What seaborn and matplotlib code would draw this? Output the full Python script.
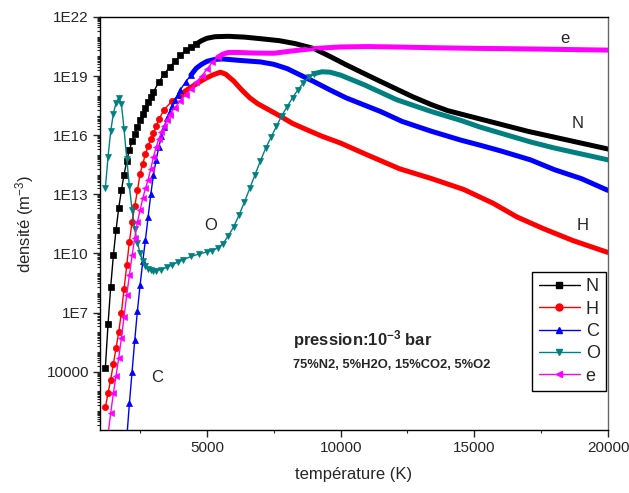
import numpy as np
import pandas as pd
import matplotlib
matplotlib.use("Agg")
import matplotlib.pyplot as plt
import seaborn as sns
from matplotlib.ticker import FixedLocator, FuncFormatter, LogLocator, NullFormatter
from matplotlib.lines import Line2D

# ---------------- data (log10 of density in m^-3) ----------------
T_N = [1200, 1300, 1400, 1500, 1600, 1700, 1800, 1900, 2000, 2100, 2200, 2300, 2400, 2500,
       2600, 2700, 2800, 2900, 3000, 3200, 3400, 3600, 3800, 4000, 4200, 4400, 4600, 4800,
       5000, 5300, 5800, 6400, 7000, 7700, 8300, 9000, 9600, 10200, 11000, 12000, 12700,
       13400, 14000, 15000, 16000, 17000, 18000, 19000, 20000]
logN = [4.2, 6.4, 8.3, 9.9, 11.2, 12.3, 13.2, 14.0, 14.7, 15.25, 15.7, 16.05, 16.4, 16.75,
        17.1, 17.4, 17.7, 17.95, 18.2, 18.7, 19.1, 19.45, 19.75, 20.05, 20.3, 20.47, 20.63, 20.8,
        20.92, 21.0, 21.02, 20.98, 20.9, 20.8, 20.65, 20.4, 20.0, 19.58, 19.05, 18.4, 17.95,
        17.55, 17.25, 16.9, 16.55, 16.2, 15.9, 15.6, 15.3]

T_H = [1200, 1300, 1400, 1500, 1600, 1700, 1800, 1900, 2000, 2100, 2200, 2300, 2400, 2500,
       2600, 2700, 2800, 2900, 3000, 3100, 3200, 3400, 3700, 4000, 4300, 4600, 4900, 5200,
       5500, 5700, 6000, 6300, 6600, 6900, 7300, 7700, 8200, 8700, 9300, 10000, 11000, 12200,
       13400, 14600, 15700, 16600, 17600, 18700, 20000]
logH = [2.2, 2.9, 3.6, 4.4, 5.2, 6.0, 7.0, 8.2, 9.4, 10.6, 11.6, 12.4, 13.2, 14.05,
        14.55, 15.05, 15.45, 15.8, 16.1, 16.45, 16.8, 17.3, 17.75, 18.05, 18.35, 18.6, 18.85, 19.05,
        19.2, 19.1, 18.75, 18.3, 17.9, 17.6, 17.3, 17.0, 16.6, 16.3, 15.95, 15.6, 15.0, 14.3,
        13.8, 13.25, 12.55, 11.85, 11.25, 10.65, 10.05]

T_C = [2000, 2100, 2200, 2300, 2400, 2500, 2600, 2700, 2800, 2900, 3000, 3100, 3200, 3300,
       3400, 3500, 3600, 3700, 3800, 3900, 4000, 4200, 4400, 4600, 4800, 5000, 5300, 5600,
       6200, 7000, 7500, 8000, 8500, 9000, 9600, 10200, 11500, 12300, 13400, 14500, 15200,
       16000, 17100, 18000, 19000, 20000]
logC = [0.6, 2.4, 4.0, 5.6, 7.1, 8.4, 9.6, 10.7, 11.85, 13.0, 14.0, 14.75, 15.4, 15.95,
        16.4, 16.85, 17.2, 17.5, 17.8, 18.05, 18.3, 18.7, 19.05, 19.4, 19.6, 19.75, 19.85, 19.87,
        19.8, 19.72, 19.6, 19.38, 19.05, 18.72, 18.3, 17.9, 17.2, 16.7, 16.2, 15.75, 15.5,
        15.2, 14.75, 14.25, 13.8, 13.2]

T_O = [1200, 1300, 1400, 1500, 1600, 1700, 1800, 1900, 2000, 2100, 2200, 2300, 2400, 2500,
       2600, 2700, 2800, 2900, 3000, 3100, 3300, 3500, 3700, 3900, 4100, 4400, 4700, 5000,
       5200, 5400, 5600, 5800, 6000, 6200, 6400, 6600, 6800, 7000, 7200, 7400, 7600, 7800,
       8000, 8200, 8400, 8600, 8800, 9000, 9300, 9600, 10000, 10900, 12100, 13400, 14500,
       15200, 16000, 17100, 18000, 19000, 20000]
logO = [13.3, 14.9, 16.2, 17.1, 17.65, 17.9, 17.6, 16.3, 14.8, 13.4, 12.2, 11.25, 10.55, 10.0,
        9.6, 9.35, 9.22, 9.16, 9.13, 9.13, 9.18, 9.3, 9.42, 9.55, 9.67, 9.85, 9.97, 10.08,
        10.15, 10.28, 10.5, 10.9, 11.35, 11.95, 12.6, 13.3, 14.0, 14.7, 15.35, 15.9, 16.45, 17.0,
        17.45, 17.9, 18.3, 18.65, 18.95, 19.12, 19.22, 19.2, 19.05, 18.55, 17.8, 17.2, 16.75,
        16.42, 16.1, 15.66, 15.35, 15.05, 14.75]

T_e = [1300, 1400, 1500, 1600, 1700, 1800, 1900, 2000, 2100, 2200, 2300, 2400, 2500, 2600,
       2700, 2800, 2900, 3000, 3100, 3200, 3300, 3400, 3500, 3600, 3800, 4000, 4200, 4400,
       4600, 4800, 5000, 5200, 5400, 5600, 5800, 6200, 6800, 7500, 8200, 9000, 10000, 11000,
       12000, 13500, 15000, 17000, 20000]
loge = [0.8, 1.9, 2.9, 3.8, 4.7, 5.7, 6.8, 7.9, 8.9, 9.9, 10.8, 11.6, 12.2, 12.8,
        13.3, 13.75, 14.3, 14.9, 15.4, 15.8, 16.15, 16.45, 16.75, 17.05, 17.4, 17.75, 18.05, 18.35,
        18.7, 19.0, 19.35, 19.7, 19.95, 20.12, 20.2, 20.2, 20.17, 20.16, 20.28, 20.4, 20.48, 20.5,
        20.48, 20.44, 20.41, 20.38, 20.32]

species = ["N", "H", "C", "O", "e"]
colors = ["#000000", "#FF0000", "#0000FF", "#008080", "#FF00FF"]
markers = ["s", "o", "^", "v", "<"]

x_ticks = [5000, 10000, 15000, 20000]
y_ticks = [1e4, 1e7, 1e10, 1e13, 1e16, 1e19, 1e22]

# ---------------- style ----------------
sns.set_style("ticks")
plt.rcParams["font.family"] = ["Liberation Sans", "DejaVu Sans"]
plt.rcParams["mathtext.fontset"] = "custom"
plt.rcParams["mathtext.rm"] = "Liberation Sans"
plt.rcParams["mathtext.it"] = "Liberation Sans:italic"
plt.rcParams["mathtext.bf"] = "Liberation Sans:bold"

fig = plt.figure(figsize=(6.29, 4.93), dpi=100)
ax = fig.add_axes([100 / 629, 63 / 493, 508 / 629, 413 / 493])

series = [(T_N, logN, 4600), (T_H, logH, 4000), (T_C, logC, 4400), (T_O, logO, 9000), (T_e, loge, 5400)]
for (T, lg, band_from), name, col, mk in zip(series, species, colors, markers):
    df = pd.DataFrame({"T": T, "n": 10.0 ** np.asarray(lg, dtype=float)})
    band = df[df["T"] >= band_from]
    sns.lineplot(data=band, x="T", y="n", ax=ax, color=col, lw=3.6, estimator=None,
                 errorbar=None, legend=False, zorder=2)
    show = [bool(t <= band_from) for t in df["T"]]
    sns.lineplot(data=df, x="T", y="n", ax=ax, color=col, lw=1.0, marker=mk, markersize=4.5,
                 markeredgewidth=0.5, markeredgecolor=col, markevery=show, estimator=None,
                 errorbar=None, legend=False, zorder=3)

ax.set_yscale("log")
ax.set_xlim(1000, 20000)
ax.set_ylim(11, 1e22)

ax.xaxis.set_major_locator(FixedLocator(x_ticks))
ax.xaxis.set_minor_locator(FixedLocator([2500, 7500, 12500, 17500]))
ax.yaxis.set_major_locator(FixedLocator(y_ticks))
ax.yaxis.set_minor_locator(LogLocator(base=10, subs=np.arange(1, 10), numticks=200))
ax.yaxis.set_minor_formatter(NullFormatter())


def yfmt(v, pos):
    e = int(round(np.log10(v)))
    return "10000" if e == 4 else f"1E{e}"


ax.yaxis.set_major_formatter(FuncFormatter(yfmt))
ax.xaxis.set_major_formatter(FuncFormatter(lambda v, p: f"{int(v)}"))

ax.tick_params(axis="both", which="major", direction="out", length=5, width=1,
               labelsize=11, top=False, right=False, pad=3)
ax.tick_params(axis="both", which="minor", direction="out", length=2.5, width=0.8,
               top=False, right=False)
for s in ["left", "bottom", "top"]:
    ax.spines[s].set_color("black")
    ax.spines[s].set_linewidth(1.0)
ax.spines["right"].set_color("#666666")
ax.spines["right"].set_linewidth(1.0)
ax.spines["right"].set_visible(True)
ax.spines["top"].set_visible(True)

ax.set_xlabel("température (K)", fontsize=12)
ax.set_ylabel(r"densité (m$^{-3}$)", fontsize=12)
ax.xaxis.set_label_coords(0.5, -0.09)
ax.yaxis.set_label_coords(-0.125, 0.5)

# curve labels
ax.text(0.915, 0.949, "e", transform=ax.transAxes, fontsize=12, ha="center", va="center")
ax.text(0.941, 0.743, "N", transform=ax.transAxes, fontsize=12, ha="center", va="center")
ax.text(0.951, 0.496, "H", transform=ax.transAxes, fontsize=12, ha="center", va="center")
ax.text(0.217, 0.496, "O", transform=ax.transAxes, fontsize=12, ha="center", va="center")
ax.text(0.112, 0.126, "C", transform=ax.transAxes, fontsize=12, ha="center", va="center")

ax.text(0.380, 0.218, r"pression:10$^{\mathbf{-3}}$ bar", transform=ax.transAxes,
        fontsize=12, fontweight="bold", ha="left", va="center")
ax.text(0.380, 0.157, "75%N2, 5%H2O, 15%CO2, 5%O2", transform=ax.transAxes,
        fontsize=9.3, fontweight="bold", ha="left", va="center")

handles = [Line2D([0], [0], color=c, lw=1.0, marker=m, markersize=5, markeredgecolor=c)
           for c, m in zip(colors, markers)]
leg = ax.legend(handles, species, loc="upper right", bbox_to_anchor=(0.996, 0.383),
                fontsize=13, frameon=True, fancybox=False, shadow=False, borderaxespad=0,
                handlelength=2.3, handletextpad=0.3, labelspacing=0.3, borderpad=0.35,
                numpoints=1)
leg.get_frame().set_edgecolor("black")
leg.get_frame().set_linewidth(1.0)
leg.get_frame().set_alpha(1)

fig.savefig("out.png", dpi=100)
